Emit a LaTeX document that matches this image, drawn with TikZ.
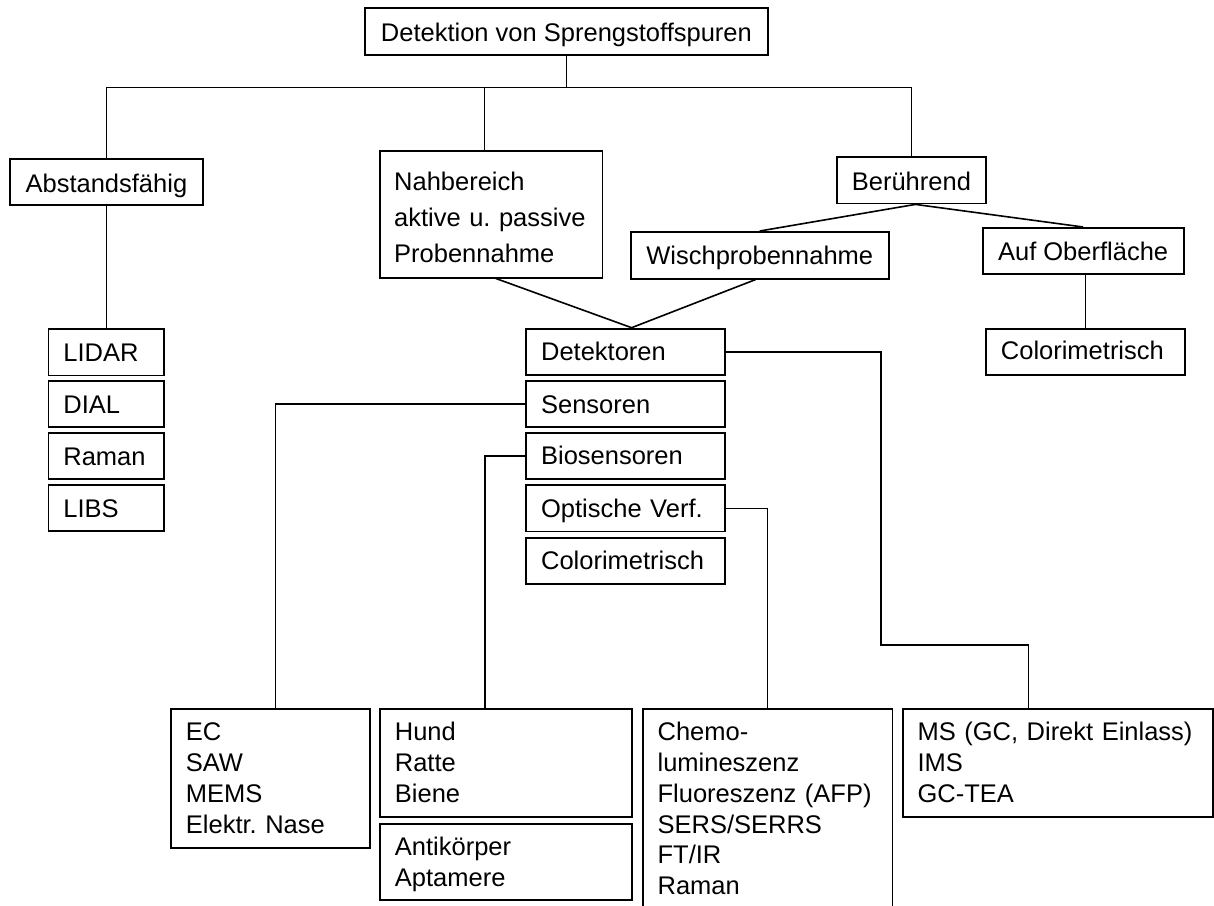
\documentclass[tikz,border=0pt]{standalone}
\usepackage{fontspec}
\setmainfont{Liberation Sans}
\frenchspacing
\hyphenpenalty=10000
\exhyphenpenalty=10000
\begin{document}
\begin{tikzpicture}[x=1pt,y=-1pt,
  every node/.style={font=\fontsize{25.5pt}{31pt}\selectfont},
  cbox/.style={draw, line width=1.8pt, anchor=north west, inner xsep=0pt, inner ysep=0pt, align=center},
  lbox/.style={draw, line width=1.8pt, anchor=north west, inner xsep=15pt, inner ysep=0pt, align=left},
  colbox/.style={lbox, text width=85.2pt, text height=32.5pt, text depth=13.8pt},
  detbox/.style={lbox, text width=169pt, text height=32.3pt, text depth=14pt},
  conn/.style={line width=1.6pt}]
\useasboundingbox (0,0) rectangle (1214,905);
\fill[white] (0,0) rectangle (1214,905);
\clip (0,0) rectangle (1214,905);

% top level
\node[cbox, minimum width=403pt, text height=33.4pt, text depth=13.3pt] (top) at (364,7.3) {Detektion von Sprengstoffspuren};
\node[cbox, minimum width=192.4pt, text height=34pt, text depth=12.3pt] (abst) at (9.3,157.7) {Abstandsfähig};
\node[lbox, inner xsep=14pt, text width=194.2pt, text height=39.3pt, text depth=87.4pt, font=\fontsize{25.5pt}{36pt}\selectfont] (nah) at (379.3,150) {Nahbereich\\aktive u. passive\\Probennahme};
\node[cbox, minimum width=149pt, text height=33pt, text depth=13.3pt] (ber) at (836,156.3) {Berührend};
\node[cbox, minimum width=257.7pt, text height=32.3pt, text depth=14.4pt] (wisch) at (630,231) {Wischprobennahme};
\node[cbox, minimum width=201pt, text height=32.3pt, text depth=14pt] (auf) at (981.7,227) {Auf Oberfläche};
\node[lbox, text width=169.3pt, text height=31.3pt, text depth=15pt] (colR) at (985,327.7) {Colorimetrisch};

% stand-off column
\node[colbox] (lidar) at (47.5,328.3) {LIDAR};
\node[colbox] (dial) at (47.5,380) {DIAL};
\node[colbox] (raman) at (47.5,431.7) {Raman};
\node[colbox] (libs) at (47.5,483.7) {LIBS};

% detector column
\node[detbox] (det) at (525.2,327.7) {Detektoren};
\node[detbox] (sens) at (525.2,380) {Sensoren};
\node[detbox] (bio) at (525.2,431.7) {Biosensoren};
\node[detbox] (opt) at (525.2,484.3) {Optische Verf.};
\node[detbox] (colL) at (525.2,536.7) {Colorimetrisch};

% bottom boxes
\node[lbox, text width=169pt, text height=32.3pt, text depth=107pt] (ec) at (170,707.7) {EC\\SAW\\MEMS\\Elektr. Nase};
\node[lbox, text width=222.4pt, text height=32.3pt, text depth=75.7pt] (hund) at (379,707.7) {Hund\\Ratte\\Biene};
\node[lbox, text width=222.4pt, text height=32.3pt, text depth=44pt] (anti) at (379,822.7) {Antikörper\\Aptamere};
\node[lbox, text width=219.8pt, text height=32.3pt, text depth=230pt, font=\fontsize{25.5pt}{30.7pt}\selectfont] (chemo) at (641.7,707.7) {Chemo-\\lumineszenz\\Fluoreszenz (AFP)\\SERS/SERRS\\FT/IR\\Raman};
\node[lbox, text width=280.3pt, text height=32.3pt, text depth=76pt] (ms) at (901.7,707.7) {MS (GC, Direkt Einlass)\\IMS\\GC-TEA};

% connectors
\coordinate (bus) at (0,87.3);
\coordinate (nahtop) at ([xshift=-6.7pt]nah.north);
\coordinate (bs) at ([xshift=4pt]ber.south);
\coordinate (dt) at ([xshift=6pt]det.north);
\coordinate (dk) at (880.7,645);
\draw[conn] (top.south) -- (top.south |- bus);
\draw[conn] (abst.north) -- (abst.north |- bus) -- (ber.north |- bus) -- (ber.north);
\draw[conn] (nahtop) -- (nahtop |- bus);
\draw[conn] (wisch.north) -- (bs) -- (auf.north);
\draw[conn] (auf.south -| colR.north) -- (colR.north);
\draw[conn] (abst.south) -- (abst.south |- lidar.north);
\draw[conn] ([xshift=4.6pt]nah.south) -- (dt) -- ([xshift=-4pt]wisch.south);
\draw[conn] (det.east) -| (dk) -| ([xshift=-29.4pt]ms.north);
\draw[conn] (sens.west) -| ([xshift=5.2pt]ec.north);
\draw[conn] (bio.west) -| ([xshift=-21.1pt]hund.north);
\draw[conn] (opt.east) -| (chemo.north);
\end{tikzpicture}
\end{document}
